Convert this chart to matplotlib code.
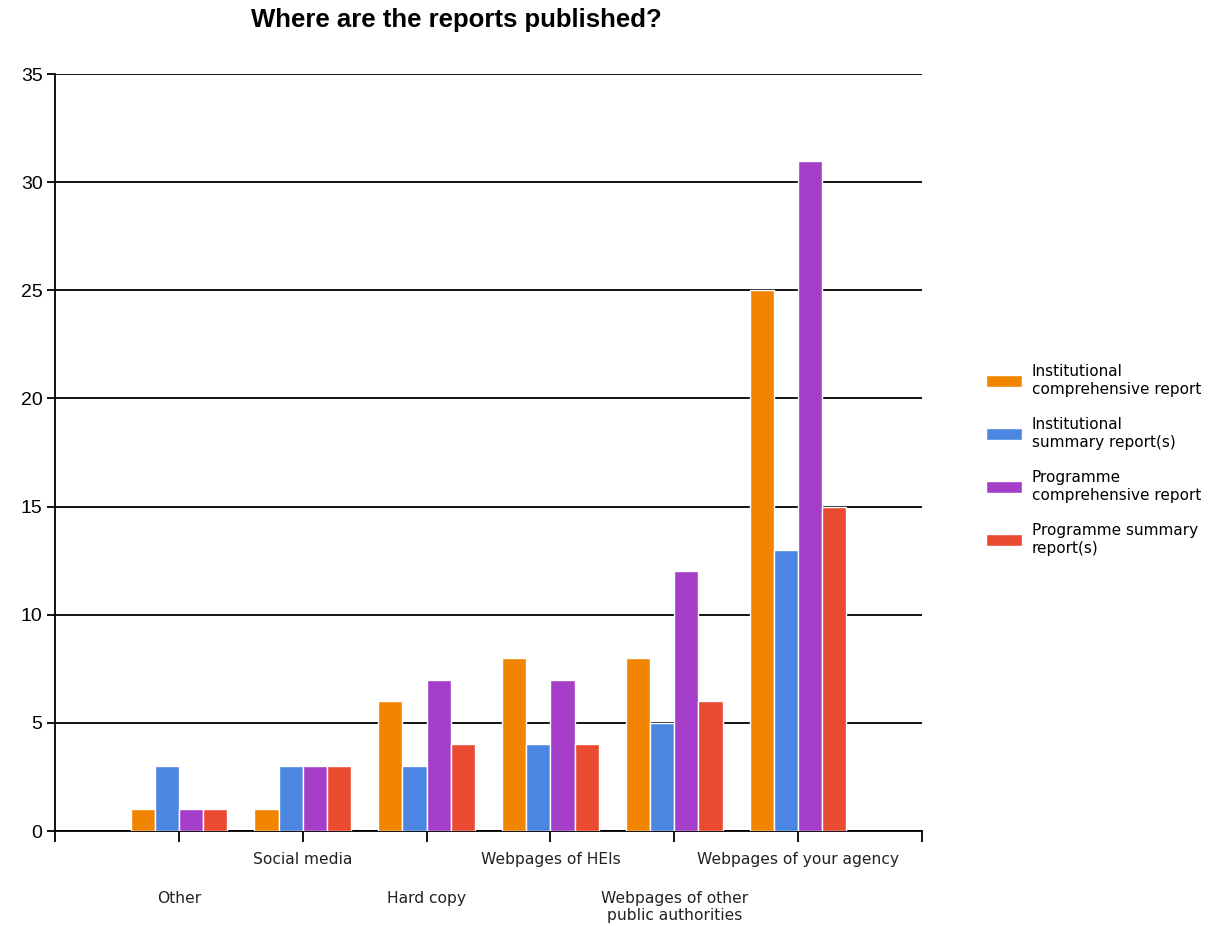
import numpy as np
import matplotlib
matplotlib.use("Agg")
import matplotlib.pyplot as plt

plt.rcParams['font.family'] = ['DejaVu Sans']

categories = ["Other", "Social media", "Hard copy", "Webpages of HEIs",
              "Webpages of other\npublic authorities", "Webpages of your agency"]
series = ["Institutional\ncomprehensive report", "Institutional\nsummary report(s)",
          "Programme\ncomprehensive report", "Programme summary\nreport(s)"]
inst_comp = [1, 1, 6, 8, 8, 25]
inst_summ = [3, 3, 3, 4, 5, 13]
prog_comp = [1, 3, 7, 7, 12, 31]
prog_summ = [1, 3, 4, 4, 6, 15]
values = [inst_comp, inst_summ, prog_comp, prog_summ]
colors = ["#F28500", "#4A86E2", "#A43EC8", "#EA4A30"]

fig = plt.figure(figsize=(12.14, 9.26), dpi=100)
ax = fig.add_axes([55/1214, 1-831/926, (922-55)/1214, (831-74)/926])

x = np.arange(len(categories))
w = 0.195
for i, (vals, c, lab) in enumerate(zip(values, colors, series)):
    ax.bar(x + (i - 1.5)*w, vals, width=w, color=c, edgecolor="white",
           linewidth=1, label=lab, zorder=3)

ax.set_xlim(-1, len(categories))
ax.set_ylim(0, 35)
ax.set_yticks(np.arange(0, 36, 5))
ax.yaxis.grid(True, color="black", linewidth=1.3, zorder=1)
for s in ["top", "right"]:
    ax.spines[s].set_visible(False)
ax.spines["left"].set_linewidth(1.3)
ax.spines["bottom"].set_linewidth(1.3)

ax.set_xticks(x)
ax.set_xticklabels(categories, fontsize=11.2, va="top", color="#222222",
                   linespacing=1.15)
ax.set_xticks([-1, len(categories)], minor=True)
ax.tick_params(axis="x", which="both", length=8, width=1.3)
for i, t in enumerate(ax.xaxis.get_major_ticks()):
    t.set_pad(7 if i % 2 == 1 else 35)
ax.tick_params(axis="y", length=6, width=1.3, labelsize=14, pad=3)
for lbl in ax.get_yticklabels():
    lbl.set_fontfamily("Liberation Sans")

fig.text(456/1214, 1-20/926, "Where are the reports published?", ha="center",
         va="center", fontsize=18.5, fontweight="bold", family="Liberation Sans")

fig.legend(loc="center left", bbox_to_anchor=(972/1214, 1-460/926), frameon=False,
           fontsize=11, handlelength=2.4, handleheight=0.8, labelspacing=1.35,
           handletextpad=0.6)

fig.savefig("out.png", dpi=100)
